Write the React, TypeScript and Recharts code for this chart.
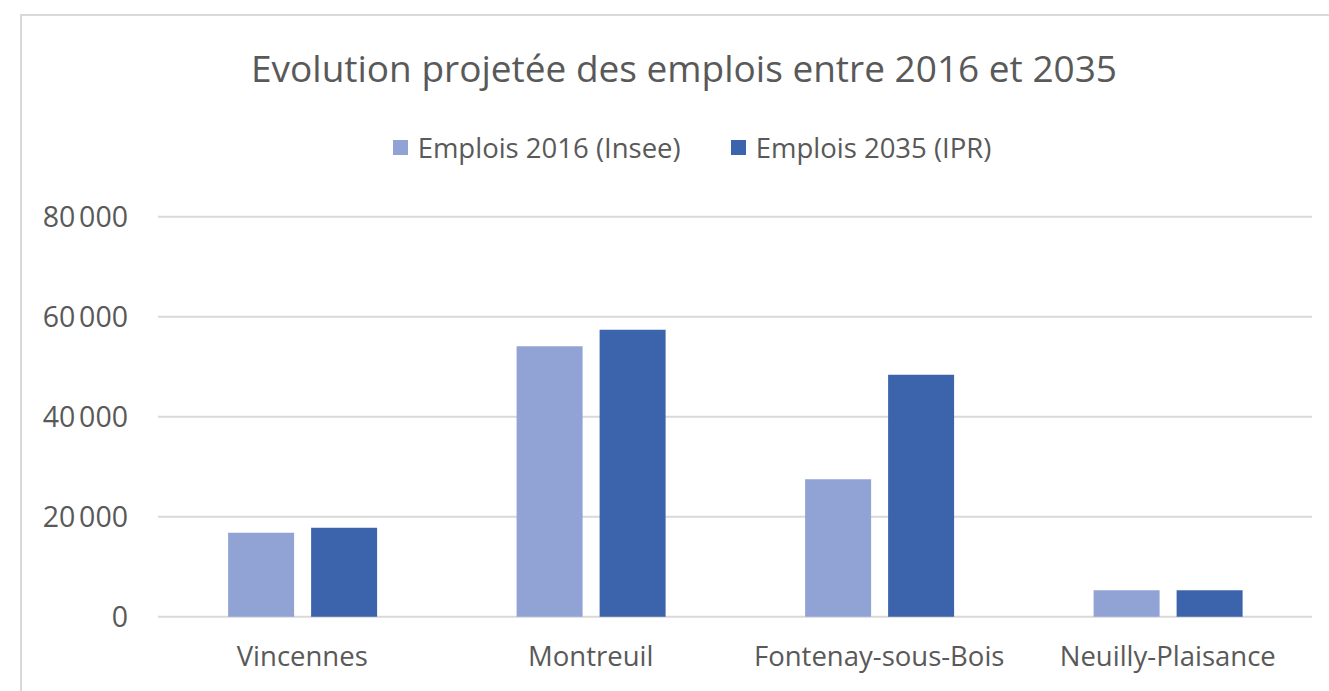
import React from 'react';
import { BarChart, Bar, XAxis, YAxis, CartesianGrid, Legend } from 'recharts';

const categories = ['Vincennes', 'Montreuil', 'Fontenay-sous-Bois', 'Neuilly-Plaisance'];
const emplois2016 = [16800, 54100, 27500, 5300];
const emplois2035 = [17800, 57400, 48400, 5300];
const yTicks = [0, 20000, 40000, 60000, 80000];
const seriesNames = ['Emplois 2016 (Insee)', 'Emplois 2035 (IPR)'];
const seriesColors = ['#91A3D4', '#3C64AC'];
const title = 'Evolution projetée des emplois entre 2016 et 2035';

const data = categories.map((c, i) => ({ name: c, a: emplois2016[i], b: emplois2035[i] }));

const W = 1329;
const H = 691;
const TEXT = '#595959';
const FONT = '"Open Sans", "DejaVu Sans", sans-serif';

const fmt = (v: number) => {
  if (v === 0) return '0';
  const s = String(v);
  return s.slice(0, s.length - 3) + '\u202F' + s.slice(s.length - 3);
};

const renderLegend = () => (
  <div style={{ height: 96.7, width: W, position: 'relative' }}>
    <div
      style={{
        position: 'absolute',
        top: 9.5,
        left: 0,
        width: W,
        height: 36,
        display: 'flex',
        justifyContent: 'center',
        alignItems: 'center',
        paddingLeft: 55,
        boxSizing: 'border-box',
        fontFamily: FONT,
        fontSize: 27.5,
        color: TEXT,
        lineHeight: '36px',
      }}
    >
      {seriesNames.map((n, i) => (
        <div key={n} style={{ display: 'flex', alignItems: 'center', marginRight: i === 0 ? 50 : 0 }}>
          <div style={{ width: 15, height: 15, background: seriesColors[i], marginRight: 10 }} />
          <span style={{ whiteSpace: 'nowrap' }}>{n}</span>
        </div>
      ))}
    </div>
  </div>
);

export default function App() {
  return (
    <div style={{ position: 'absolute', left: 0, top: 0, width: W, height: H, overflow: 'hidden', background: '#fff' }}>
      <div
        style={{
          position: 'absolute',
          left: 20,
          top: 14,
          width: 1400,
          height: 800,
          borderTop: '2px solid #d9d9d9',
          borderLeft: '2px solid #d9d9d9',
        }}
      />
      <div
        style={{
          position: 'absolute',
          top: 48.8,
          left: 684,
          transform: 'translateX(-50%)',
          fontFamily: FONT,
          fontSize: 37,
          lineHeight: '37px',
          color: TEXT,
          whiteSpace: 'nowrap',
          zIndex: 2,
        }}
      >
        {title}
      </div>
      <div style={{ position: 'absolute', left: 0, top: 0 }}>
        <BarChart
          width={W}
          height={H}
          data={data}
          margin={{ top: 120, right: 17, bottom: 14.3, left: 20 }}
          barCategoryGap="24.3%"
          barGap={17}
        >
          <CartesianGrid vertical={false} stroke="#d9d9d9" strokeWidth={2} />
          <XAxis
            dataKey="name"
            axisLine={false}
            tickLine={false}
            tickSize={0}
            tickMargin={30}
            height={60}
            interval={0}
            tick={{ fill: TEXT, fontSize: 27.5, fontFamily: FONT }}
          />
          <YAxis
            domain={[0, 80000]}
            ticks={yTicks}
            axisLine={false}
            tickLine={false}
            tickSize={0}
            tickMargin={30}
            width={138}
            tickFormatter={fmt}
            tick={{ fill: TEXT, fontSize: 28.5, fontFamily: FONT }}
          />
          <Legend verticalAlign="top" content={renderLegend} wrapperStyle={{ left: 0, width: W }} />
          <Bar dataKey="a" name={seriesNames[0]} fill={seriesColors[0]} isAnimationActive={false} />
          <Bar dataKey="b" name={seriesNames[1]} fill={seriesColors[1]} isAnimationActive={false} />
        </BarChart>
      </div>
    </div>
  );
}
